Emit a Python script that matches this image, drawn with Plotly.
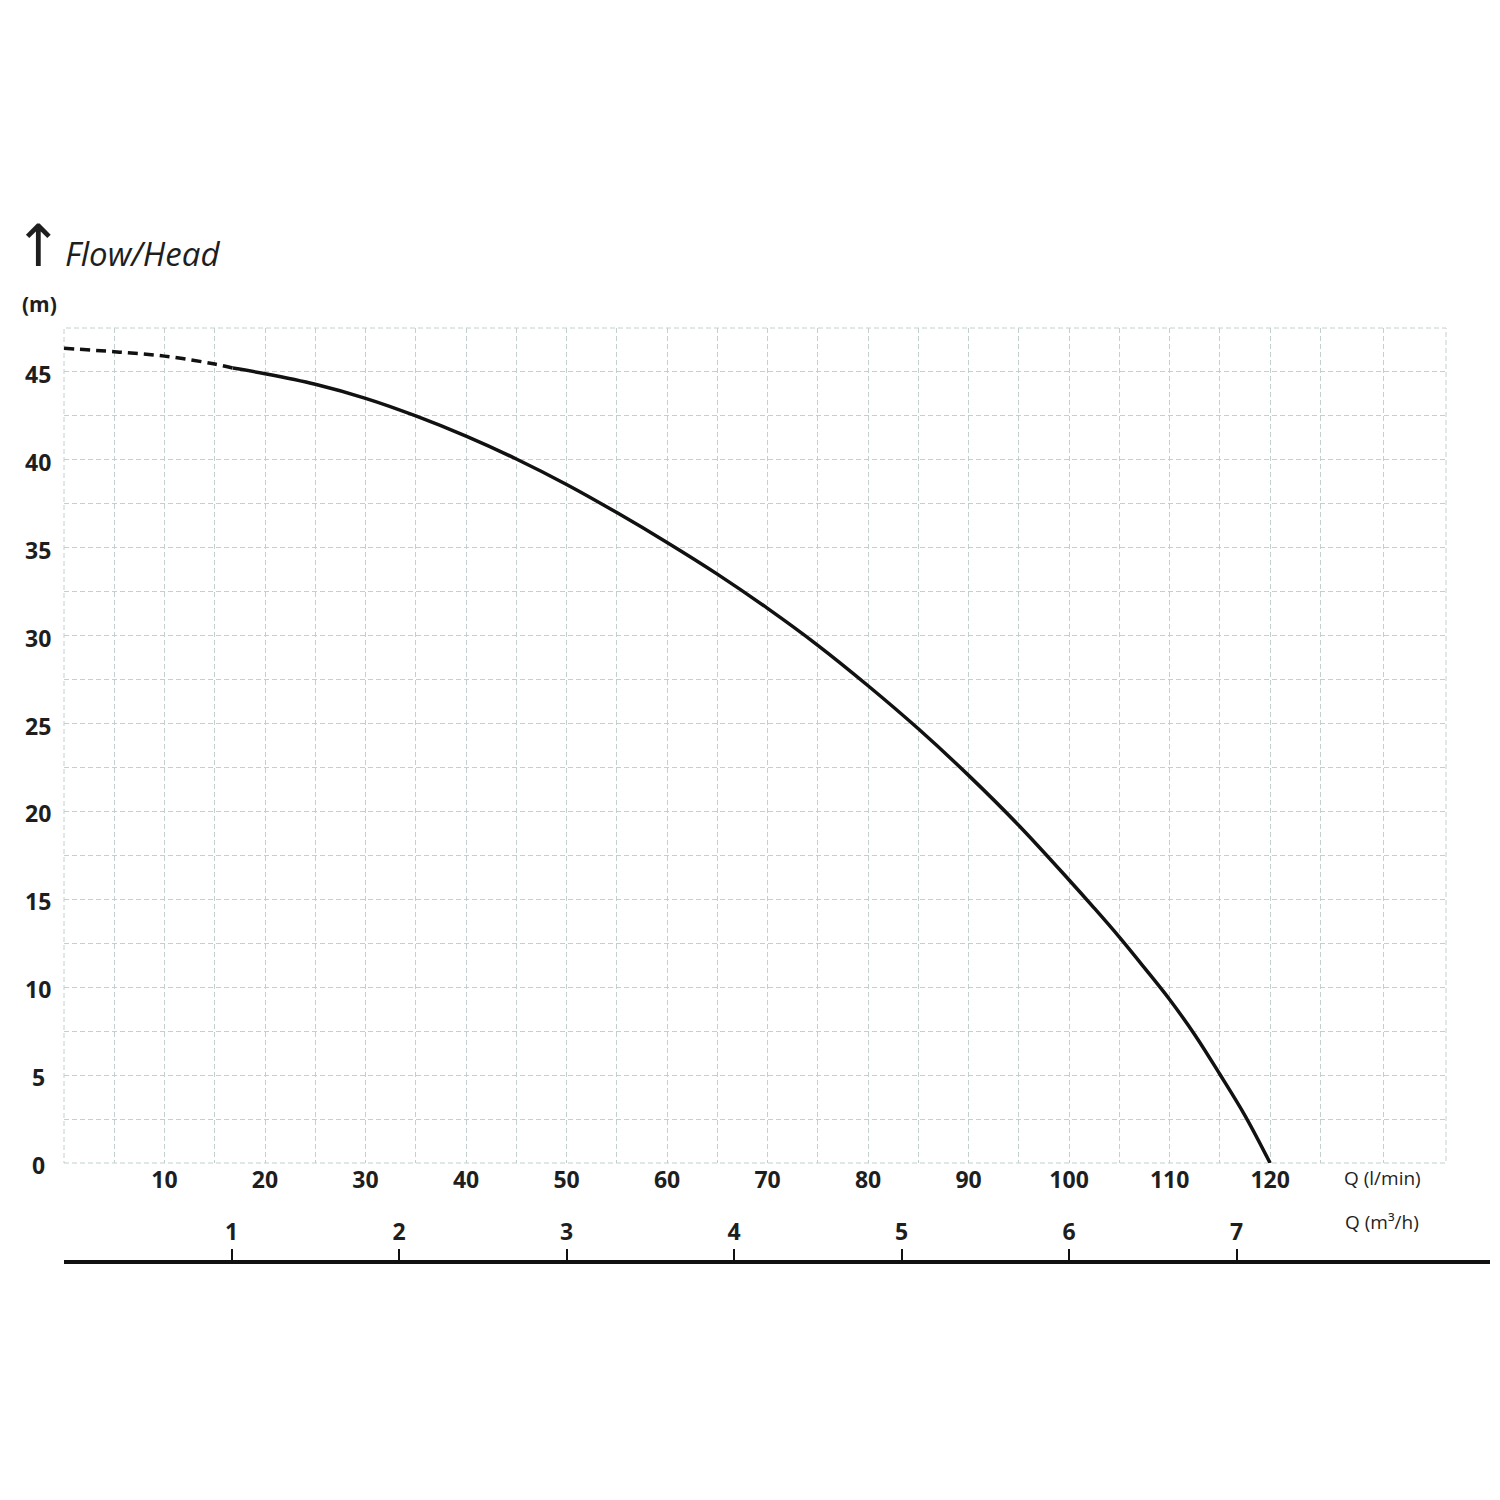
import plotly.graph_objects as go

# ---- data ----
flow_dashed = [0, 5, 10, 15, 16.8]
head_dashed = [46.35, 46.15, 45.9, 45.45, 45.22]

flow_solid = [16.8, 20, 25, 30, 35, 40, 45, 50, 55, 60, 65, 70, 75, 80, 85,
              90, 95, 100, 102.5, 105, 107.5, 110, 112.5, 115, 117.5, 120]
head_solid = [45.22, 44.9, 44.3, 43.5, 42.5, 41.35, 40.05, 38.6, 37.0, 35.3,
              33.5, 31.55, 29.45, 27.15, 24.7, 22.05, 19.2, 16.1, 14.5, 12.85,
              11.1, 9.3, 7.3, 5.05, 2.7, 0.0]

x_labels = [10, 20, 30, 40, 50, 60, 70, 80, 90, 100, 110, 120]
x_grid = [5, 10, 15, 20, 25, 30, 35, 40, 45, 50, 55, 60, 65, 70, 75, 80, 85,
          90, 95, 100, 105, 110, 115, 120, 125, 131.25, 137.5]
y_grid = [i * 2.5 for i in range(0, 20)]
y_labels = [0, 5, 10, 15, 20, 25, 30, 35, 40, 45]
m3h_ticks = [1, 2, 3, 4, 5, 6, 7]

X_MAX = 137.5
Y_MAX = 47.5

# ---- layout geometry (screen pixels; page body has an 8px margin) ----
OFF = 8
W, H = 1500, 1500
SX0, SX1 = 64, 1490     # paper left / right on screen
SY0, SY1 = 328, 1260    # paper top / bottom on screen
L, R = SX0 - OFF, W + OFF - SX1
T, B = SY0 - OFF, H + OFF - SY1
PW, PH = SX1 - SX0, SY1 - SY0


def px(x):
    return (x - SX0) / PW


def py(y):
    return (SY1 - y) / PH


x_dom_end = px(1446)
y_dom_start = py(1163)

TXT = "#1e1e1e"
GRID = "#c3d0d0"
FONT = "Open Sans"

fig = go.Figure()
fig.add_trace(go.Scatter(x=flow_dashed, y=head_dashed, mode="lines",
                         line=dict(color="#111111", width=3.5, dash="10px,6px",
                                   shape="spline"),
                         hoverinfo="skip", showlegend=False))
fig.add_trace(go.Scatter(x=flow_solid, y=head_solid, mode="lines",
                         line=dict(color="#111111", width=3.5, shape="spline",
                                   smoothing=1.0),
                         hoverinfo="skip", showlegend=False))
# invisible trace for the secondary (m3/h) axis
fig.add_trace(go.Scatter(x=[0], y=[0], xaxis="x2", yaxis="y2", mode="markers",
                         marker=dict(opacity=0), hoverinfo="skip",
                         showlegend=False))

x_ticktext = [str(int(v)) if v in x_labels else "" for v in x_grid]

fig.update_layout(
    width=W, height=H,
    margin=dict(l=L, r=R, t=T, b=B, pad=0),
    paper_bgcolor="white", plot_bgcolor="white",
    font=dict(family=FONT, color=TXT),
    xaxis=dict(domain=[0, x_dom_end], range=[0, X_MAX], anchor="y",
               tickvals=x_grid, ticktext=x_ticktext, ticks="",
               showgrid=True, gridcolor=GRID, griddash="5px,3px", gridwidth=1,
               zeroline=False, showline=False,
               tickfont=dict(family=FONT, size=23, color=TXT, weight="bold"),
               ticklabelstandoff=1),
    yaxis=dict(domain=[y_dom_start, 1], range=[0, Y_MAX], anchor="x",
               tickvals=y_grid, showticklabels=False, ticks="",
               showgrid=True, gridcolor=GRID, griddash="5px,3px", gridwidth=1,
               zeroline=False, showline=False),
    xaxis2=dict(domain=[0, 1], range=[0, X_MAX / x_dom_end], anchor="y2",
                tickvals=[m * 1000 / 60 for m in m3h_ticks],
                ticktext=[str(m) for m in m3h_ticks],
                ticks="inside", ticklen=11, tickwidth=1.5, tickcolor="#111111",
                ticklabelposition="inside", ticklabelstandoff=6,
                showline=True, linecolor="#111111", linewidth=4,
                showgrid=False, zeroline=False,
                tickfont=dict(family=FONT, size=23, color=TXT, weight="bold")),
    yaxis2=dict(domain=[0, 0.005], range=[0, 1], anchor="x2", visible=False),
)

# dashed plot border
fig.add_shape(type="rect", xref="x domain", yref="y domain",
              x0=0, x1=1, y0=0, y1=1,
              line=dict(color=GRID, width=1, dash="5px,3px"), layer="below")

# centred y-axis labels
for v in y_labels:
    fig.add_annotation(xref="paper", yref="y", x=px(38), y=v, yshift=-2,
                       text=f"<b>{v}</b>", showarrow=False,
                       xanchor="center", yanchor="middle",
                       font=dict(family=FONT, size=23, color=TXT))

ann = [
    dict(text="↑", x=px(38), y=py(246), font=dict(size=58, family="DejaVu Sans",
                                                   color=TXT)),
    dict(text="<i>Flow/Head</i>", x=px(142), y=py(253),
         font=dict(size=33, family=FONT, color=TXT)),
    dict(text="<b>(m)</b>", x=px(39), y=py(304),
         font=dict(size=21, family=FONT, color=TXT)),
    dict(text="Q (l/min)", x=px(1382), y=py(1178),
         font=dict(size=19, family=FONT, color=TXT)),
    dict(text="Q (m³/h)", x=px(1382), y=py(1222),
         font=dict(size=19, family=FONT, color=TXT)),
]
for a in ann:
    fig.add_annotation(xref="paper", yref="paper", showarrow=False,
                       xanchor="center", yanchor="middle", **a)

fig.write_html("out.html")
